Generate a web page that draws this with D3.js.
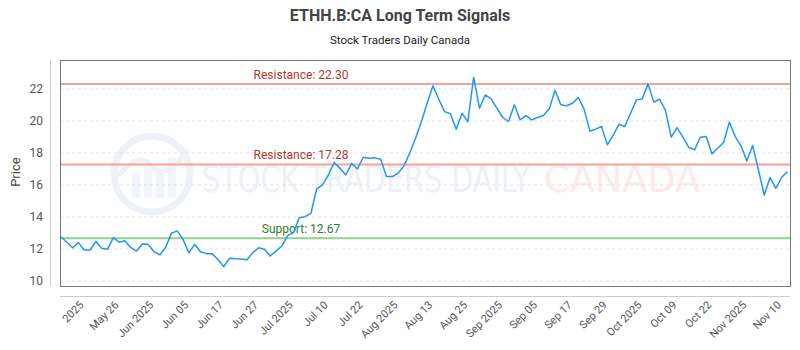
<html>
<head>
<meta charset="utf-8" />
<title>ETHH.B:CA Long Term Signals</title>
<script src="https://d3js.org/d3.v7.min.js"></script>
<style>
  body { margin: 0; background: #fff; }
  text { font-family: "Roboto", "Open Sans", sans-serif; }
  .grid line { stroke: #e3e3e3; stroke-dasharray: 3,3; }
  .tick text { fill: #555; }
</style>
</head>
<body>
<script>
// price series, one value per trading session
var prices = [12.77, 12.42, 12.08, 12.40, 11.94, 11.94, 12.48, 12.04, 11.98, 12.71,
  12.42, 12.52, 12.08, 11.87, 12.31, 12.29, 11.83, 11.63, 12.10, 12.98,
  13.13, 12.60, 11.77, 12.29, 11.83, 11.71, 11.71, 11.35, 10.90, 11.42,
  11.39, 11.37, 11.33, 11.77, 12.08, 11.98, 11.56, 11.87, 12.19, 12.83,
  13.02, 13.95, 14.02, 14.23, 15.75, 16.00, 16.62, 17.40, 17.04, 16.62,
  17.35, 17.00, 17.73, 17.67, 17.69, 17.60, 16.52, 16.52, 16.73, 17.19,
  17.98, 18.92, 19.95, 21.10, 22.19, 21.35, 20.58, 20.44, 19.48, 20.48,
  19.94, 22.73, 20.79, 21.62, 21.37, 20.79, 20.21, 19.96, 21.00, 20.06,
  20.33, 20.06, 20.21, 20.33, 20.75, 21.90, 21.00, 20.94, 21.10, 21.46,
  20.73, 19.37, 19.48, 19.65, 18.50, 19.10, 19.79, 19.65, 20.48, 21.31,
  21.37, 22.31, 21.17, 21.35, 20.65, 18.98, 19.58, 18.98, 18.35, 18.19,
  18.98, 19.02, 17.94, 18.29, 18.65, 19.92, 19.02, 18.44, 17.50, 18.46,
  16.94, 15.37, 16.46, 15.79, 16.48, 16.83];

// x labels shown every 6th session, starting at session 4
var tickIndex = d3.range(4, 125, 6);
var tickLabels = ["2025", "May 26", "Jun 2025", "Jun 05", "Jun 17", "Jun 27", "Jul 2025",
  "Jul 10", "Jul 22", "Aug 2025", "Aug 13", "Aug 25", "Sep 2025", "Sep 05", "Sep 17",
  "Sep 29", "Oct 2025", "Oct 09", "Oct 22", "Nov 2025", "Nov 10"];
var yTicks = [10, 12, 14, 16, 18, 20, 22];

var levelNames = ["Resistance", "Resistance", "Support"];
var levelValues = [22.30, 17.28, 12.67];
var levelKinds = ["res", "res", "sup"];

var width = 800, height = 350,
    margin = {top: 60, right: 10, bottom: 64, left: 60};

var svg = d3.select("body").append("svg")
    .attr("width", width)
    .attr("height", height);

var x = d3.scaleLinear().domain([0, prices.length - 1]).range([margin.left + 1, width - margin.right - 2.5]),
    y = d3.scaleLinear().domain([9.69, 23.8]).range([height - margin.bottom, margin.top]);

// titles
svg.append("text")
    .attr("x", width / 2).attr("y", 21)
    .attr("text-anchor", "middle")
    .style("font-size", "16px").style("font-weight", "bold").style("fill", "#444")
    .text("ETHH.B:CA Long Term Signals");
svg.append("text")
    .attr("x", width / 2).attr("y", 44)
    .attr("text-anchor", "middle")
    .style("font-size", "11.5px").style("fill", "#222")
    .text("Stock Traders Daily Canada");

// watermark
var wm = svg.append("g");
wm.append("circle").attr("cx", 152).attr("cy", 174).attr("r", 38)
    .attr("fill", "none").attr("stroke", "#eef2f7").attr("stroke-width", 7);
[[-20, 14], [-8, 24], [4, 18], [16, 30]].forEach(function(b) {
  wm.append("rect").attr("x", 152 + b[0]).attr("y", 198 - b[1] - 10)
      .attr("width", 8).attr("height", b[1] + 10).attr("fill", "#f1f4f8");
});
wm.append("path").attr("d", "M118,176 Q140,150 152,166 T188,150")
    .attr("fill", "none").attr("stroke", "#eef2f7").attr("stroke-width", 5);
wm.append("text").attr("x", 202).attr("y", 192)
    .attr("textLength", 328).attr("lengthAdjust", "spacingAndGlyphs")
    .style("font-family", "'DejaVu Sans Condensed', 'DejaVu Sans', sans-serif")
    .style("font-size", "38px").style("fill", "#edf1f6")
    .text("STOCK TRADERS DAILY");
wm.append("text").attr("x", 544).attr("y", 192)
    .attr("textLength", 156).attr("lengthAdjust", "spacingAndGlyphs")
    .style("font-family", "'DejaVu Sans Condensed', 'DejaVu Sans', sans-serif")
    .style("font-size", "38px").style("fill", "#fdeaea")
    .text("CANADA");

// grid
svg.append("g").attr("class", "grid")
  .selectAll("line").data(yTicks).enter().append("line")
    .attr("x1", margin.left).attr("x2", width - margin.right)
    .attr("y1", function(d) { return y(d); }).attr("y2", function(d) { return y(d); });

// plot frame
svg.append("rect")
    .attr("x", margin.left + 0.5).attr("y", margin.top + 0.5)
    .attr("width", width - margin.left - margin.right)
    .attr("height", height - margin.top - margin.bottom)
    .attr("fill", "none").attr("stroke", "#777");

// axes (offset from the frame)
var yAxis = svg.append("g")
    .attr("transform", "translate(" + (margin.left - 10) + ",0)")
    .call(d3.axisLeft(y).tickValues(yTicks).tickSize(0).tickPadding(7).tickFormat(d3.format("d")));
yAxis.select(".domain").attr("stroke", "#ccc");
yAxis.selectAll("text").style("font-size", "12px");

var xAxis = svg.append("g")
    .attr("transform", "translate(0," + (height - margin.bottom + 10) + ")")
    .call(d3.axisBottom(x).tickValues(tickIndex).tickSize(0)
      .tickFormat(function(d, i) { return tickLabels[i]; }));
xAxis.select(".domain").attr("stroke", "#ccc")
    .attr("d", "M" + margin.left + ",0.5H" + (width - margin.right));
xAxis.selectAll("text")
    .style("font-size", "11px")
    .attr("text-anchor", "end")
    .attr("dy", "0.35em")
    .attr("transform", "translate(-3,7) rotate(-45)")
    .attr("y", 0);

svg.append("text")
    .attr("transform", "translate(20," + y(16.8) + ") rotate(-90)")
    .attr("text-anchor", "middle")
    .style("font-size", "13px").style("fill", "#444")
    .text("Price");

// support / resistance
var lv = svg.append("g").selectAll("g").data(levelValues).enter().append("g");
lv.append("line")
    .attr("x1", margin.left + 1).attr("x2", width - margin.right)
    .attr("y1", function(d) { return y(d); }).attr("y2", function(d) { return y(d); })
    .attr("stroke", function(d, i) { return levelKinds[i] == "res" ? "#f4a29c" : "#93cf8f"; })
    .attr("stroke-width", 2);
lv.append("text")
    .attr("x", 301)
    .attr("y", function(d) { return y(d) - 5; })
    .attr("text-anchor", "middle")
    .style("font-size", "12px")
    .style("fill", function(d, i) { return levelKinds[i] == "res" ? "#b03a30" : "#2e7d32"; })
    .text(function(d, i) { return levelNames[i] + ": " + d.toFixed(2); });

// price line
var line = d3.line()
    .x(function(d, i) { return x(i); })
    .y(function(d) { return y(d); });
svg.append("path")
    .datum(prices)
    .attr("d", line)
    .attr("fill", "none")
    .attr("stroke", "#2196f3")
    .attr("stroke-width", 1.5)
    .attr("stroke-linejoin", "round");
</script>
</body>
</html>
